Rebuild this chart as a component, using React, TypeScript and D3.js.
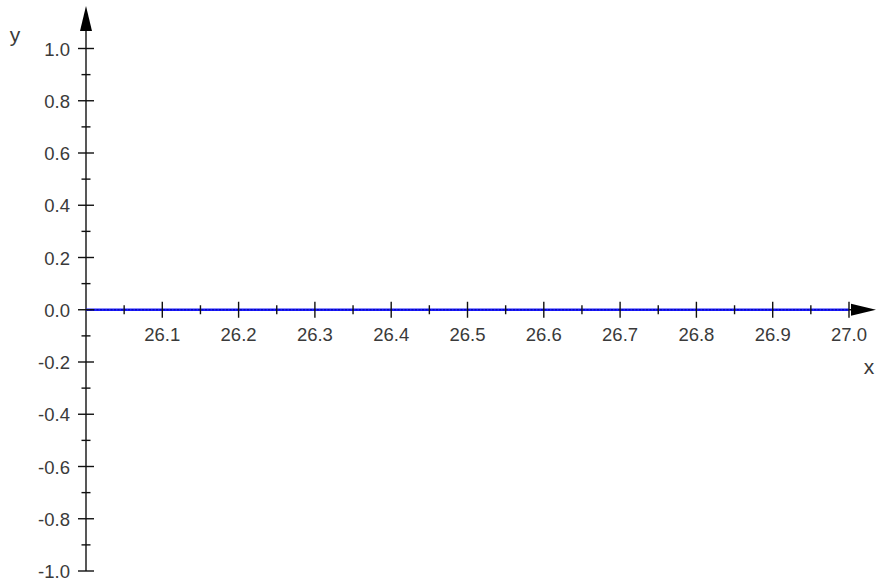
import React from "react";
import * as d3 from "d3";

const xDomain = [26.0, 27.0];
const yDomain = [-1.0, 1.0];
const xMajorTicks = [26.1, 26.2, 26.3, 26.4, 26.5, 26.6, 26.7, 26.8, 26.9, 27.0];
const xMinorTicks = [26.05, 26.15, 26.25, 26.35, 26.45, 26.55, 26.65, 26.75, 26.85, 26.95];
const yMajorTicks = [-1.0, -0.8, -0.6, -0.4, -0.2, 0.0, 0.2, 0.4, 0.6, 0.8, 1.0];
const yMinorTicks = [-0.9, -0.7, -0.5, -0.3, -0.1, 0.1, 0.3, 0.5, 0.7, 0.9];
const seriesX = [26.0, 26.25, 26.5, 26.75, 27.0];
const seriesY = [0, 0, 0, 0, 0];

export default function App() {
  const W = 878, H = 585;
  const x = d3.scaleLinear().domain(xDomain).range([86, 849]);
  const y = d3.scaleLinear().domain(yDomain).range([571, 48.5]);
  const x0 = x(xDomain[0]);
  const y0 = y(0);
  const line = d3.line<number>().x((d, i) => x(seriesX[i])).y((d) => y(d));
  const font = "'Liberation Sans', Arial, sans-serif";
  const textColor = "#3a3a3a";
  const fs = 18.5;
  return (
    <svg width={W} height={H} style={{ position: "absolute", left: 0, top: 0, background: "#fff" }}>
      {/* y axis */}
      <line x1={x0} x2={x0} y1={y(-1)} y2={28} stroke="#111" strokeWidth={1.4} />
      <path d={`M${x0},6 L${x0 - 6},31 L${x0 + 6},31 Z`} fill="#000" />
      {/* x axis */}
      <line x1={x0} x2={852} y1={y0} y2={y0} stroke="#111" strokeWidth={1.4} />
      <path d={`M876,${y0} L851,${y0 - 6} L851,${y0 + 6} Z`} fill="#000" />
      {/* data line */}
      <path d={line(seriesY) || ""} fill="none" stroke="#1a1aff" strokeWidth={2.5} />
      <path d={line(seriesY) || ""} fill="none" stroke="#000080" strokeWidth={0.8} strokeDasharray="2,1.5" />
      {/* x ticks */}
      {xMajorTicks.map((t) => (
        <g key={"xm" + t}>
          <line x1={x(t)} x2={x(t)} y1={y0 - 8} y2={y0 + 8} stroke="#111" strokeWidth={1.4} />
          <text x={x(t)} y={y0 + 31} textAnchor="middle" fontFamily={font} fontSize={fs} fill={textColor}>
            {t.toFixed(1)}
          </text>
        </g>
      ))}
      {xMinorTicks.map((t) => (
        <line key={"xn" + t} x1={x(t)} x2={x(t)} y1={y0 - 4.5} y2={y0 + 4.5} stroke="#111" strokeWidth={1.4} />
      ))}
      {/* y ticks */}
      {yMajorTicks.map((t) => (
        <g key={"ym" + t}>
          <line x1={x0 - 8} x2={x0 + 8} y1={y(t)} y2={y(t)} stroke="#111" strokeWidth={1.4} />
          <text x={x0 - 16} y={y(t) + 7} textAnchor="end" fontFamily={font} fontSize={fs} fill={textColor}>
            {t.toFixed(1)}
          </text>
        </g>
      ))}
      {yMinorTicks.map((t) => (
        <line key={"yn" + t} x1={x0 - 4.5} x2={x0 + 4.5} y1={y(t)} y2={y(t)} stroke="#111" strokeWidth={1.4} />
      ))}
      <text x={15} y={42} textAnchor="middle" fontFamily={font} fontSize={21} fill={textColor}>y</text>
      <text x={869} y={374} textAnchor="middle" fontFamily={font} fontSize={21} fill={textColor}>x</text>
    </svg>
  );
}
